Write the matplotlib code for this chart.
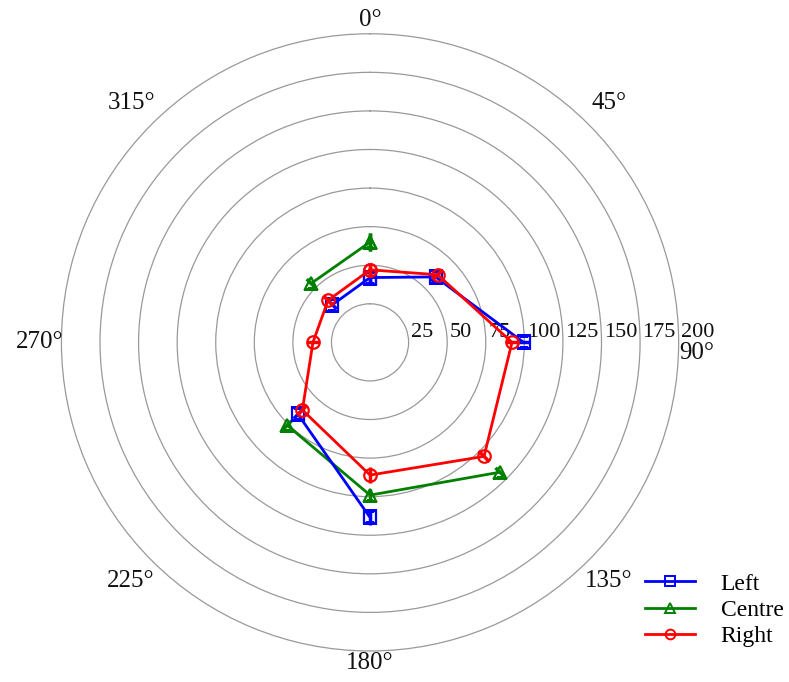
import numpy as np
import matplotlib
matplotlib.use('Agg')
import matplotlib.pyplot as plt
from matplotlib.lines import Line2D

plt.rcParams['font.family'] = ['Liberation Serif', 'DejaVu Serif']

# directions (deg) and radial values, nan = no point
angles = [0, 45, 90, 135, 180, 225, 270, 315]
left = [42, 60, 99.5, np.nan, 113.5, 66, np.nan, 34.5]
centre = [65, np.nan, np.nan, 119, 99, 76, np.nan, 54]
right = [47, 62, 92, 104.5, 86, 62, 37, 38.5]
left_err = [4, 4, 4, np.nan, 5, 4, np.nan, 4]
centre_err = [6, np.nan, np.nan, 4, 4, 4, np.nan, 4]
right_err = [4, 4, 4, 5, 5, 4, 4, 4]

r_ticks = [25, 50, 75, 100, 125, 150, 175, 200]
theta_labels = ['0°', '45°', '90°', '135°', '180°', '225°', '270°', '315°']

fig = plt.figure(figsize=(7.89, 6.82), dpi=100)
ax = fig.add_axes([0.0745, 0.0455, 0.789, 0.905], projection='polar')
ax.set_theta_zero_location('N')
ax.set_theta_direction(-1)
ax.set_ylim(0, 200)

def closed(v):
    return list(v) + [v[0]]

th = np.deg2rad(closed(angles))

series = [
    ('Left', left, left_err, '#0000ff', 's', 3),
    ('Centre', centre, centre_err, '#008000', '^', 2),
    ('Right', right, right_err, '#ff0000', 'o', 4),
]
handles = []
for name, vals, err, col, mk, z in series:
    ax.errorbar(th, closed(vals), yerr=closed(err), color=col, lw=2,
                marker=mk, ms=9, mfc='none', mew=1.6, elinewidth=2.5,
                capsize=0, zorder=z)
    handles.append(Line2D([], [], color=col, lw=2, marker=mk, ms=7,
                          mfc='none', mew=1.4))

ax.set_yticks(r_ticks[:-1])
ax.set_yticklabels([])
ax.yaxis.grid(True, color='#999999', lw=0.9)
ax.xaxis.grid(False)
ax.spines['polar'].set_color('#999999')
ax.spines['polar'].set_linewidth(0.9)
ax.tick_params(axis='both', length=0)

for r in r_ticks:
    ax.text(np.deg2rad(90), r + 1.5, str(r), ha='left', va='bottom',
            fontsize=16, color='#111111')

# angle labels, placed by hand like the original
ax.set_xticks(np.deg2rad(angles))
ax.set_xticklabels([])
label_r = {0: 209, 45: 219, 135: 219, 180: 208, 225: 219, 270: 214, 315: 219}
for a, txt in zip(angles, theta_labels):
    if a == 90:
        ax.text(np.deg2rad(a), 200.5, txt, ha='left', va='top', fontsize=18,
                color='#111111', clip_on=False)
    else:
        ax.text(np.deg2rad(a), label_r[a], txt, ha='center', va='center',
                fontsize=18, color='#111111', clip_on=False)

fig.legend(handles=handles, labels=['Left', 'Centre', 'Right'],
           loc='lower right', bbox_to_anchor=(1.02, 0.02), frameon=False,
           fontsize=17, handlelength=2.1, labelspacing=0.2,
           handletextpad=1.1)

fig.savefig('out.png', dpi=100)
